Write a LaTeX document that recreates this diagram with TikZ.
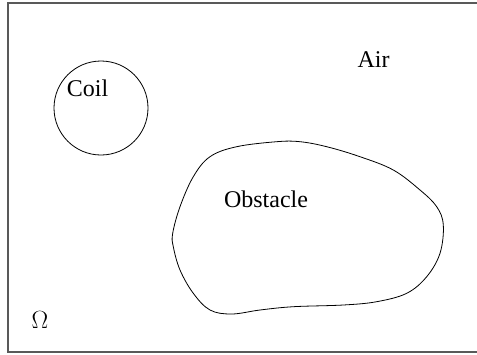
\documentclass[tikz,border=0pt]{standalone}
\usepackage{fontspec}
\setmainfont{Liberation Serif}
\begin{document}
\begin{tikzpicture}[x=1pt,y=-1pt,
  lbl/.style={inner sep=0pt,anchor=base,font=\fontsize{24}{27}\selectfont},
  shapeline/.style={draw=black,line width=0.8pt}]
\useasboundingbox (0,0) rectangle (477,354);
\draw[draw=black!65,line width=1.3pt] (479,3) -- (8,3) -- (8,352) -- (479,352);
\node[shapeline,circle,minimum size=94pt,inner sep=0pt] (coil) at (101,108) {};
\draw[shapeline] plot[smooth cycle,tension=0.6] coordinates {
 (172.7,233.3) (180,206.7) (193.3,176.7) (210,156.7) (236.7,146.7)
 (276.7,141.7) (300,141.7) (326.7,146.7) (360,156.7) (393.3,170)
 (420,190) (436.7,206.7) (443.3,225) (440,253.3) (426.7,276.7)
 (406.7,293.3) (376.7,301.7) (343.3,305) (293.3,306.7) (260,310)
 (231.7,314) (210,310) (193.3,293.3) (180,270) (173.3,246.7)};
\node[lbl] (coiltext) at (87.5,96) {Coil};
\node[lbl] (obst) at (266,207) {Obstacle};
\node[lbl] (air) at (373.5,67) {Air};
\node[lbl] (omega) at (40,328) {$\Omega$};
\end{tikzpicture}
\end{document}
